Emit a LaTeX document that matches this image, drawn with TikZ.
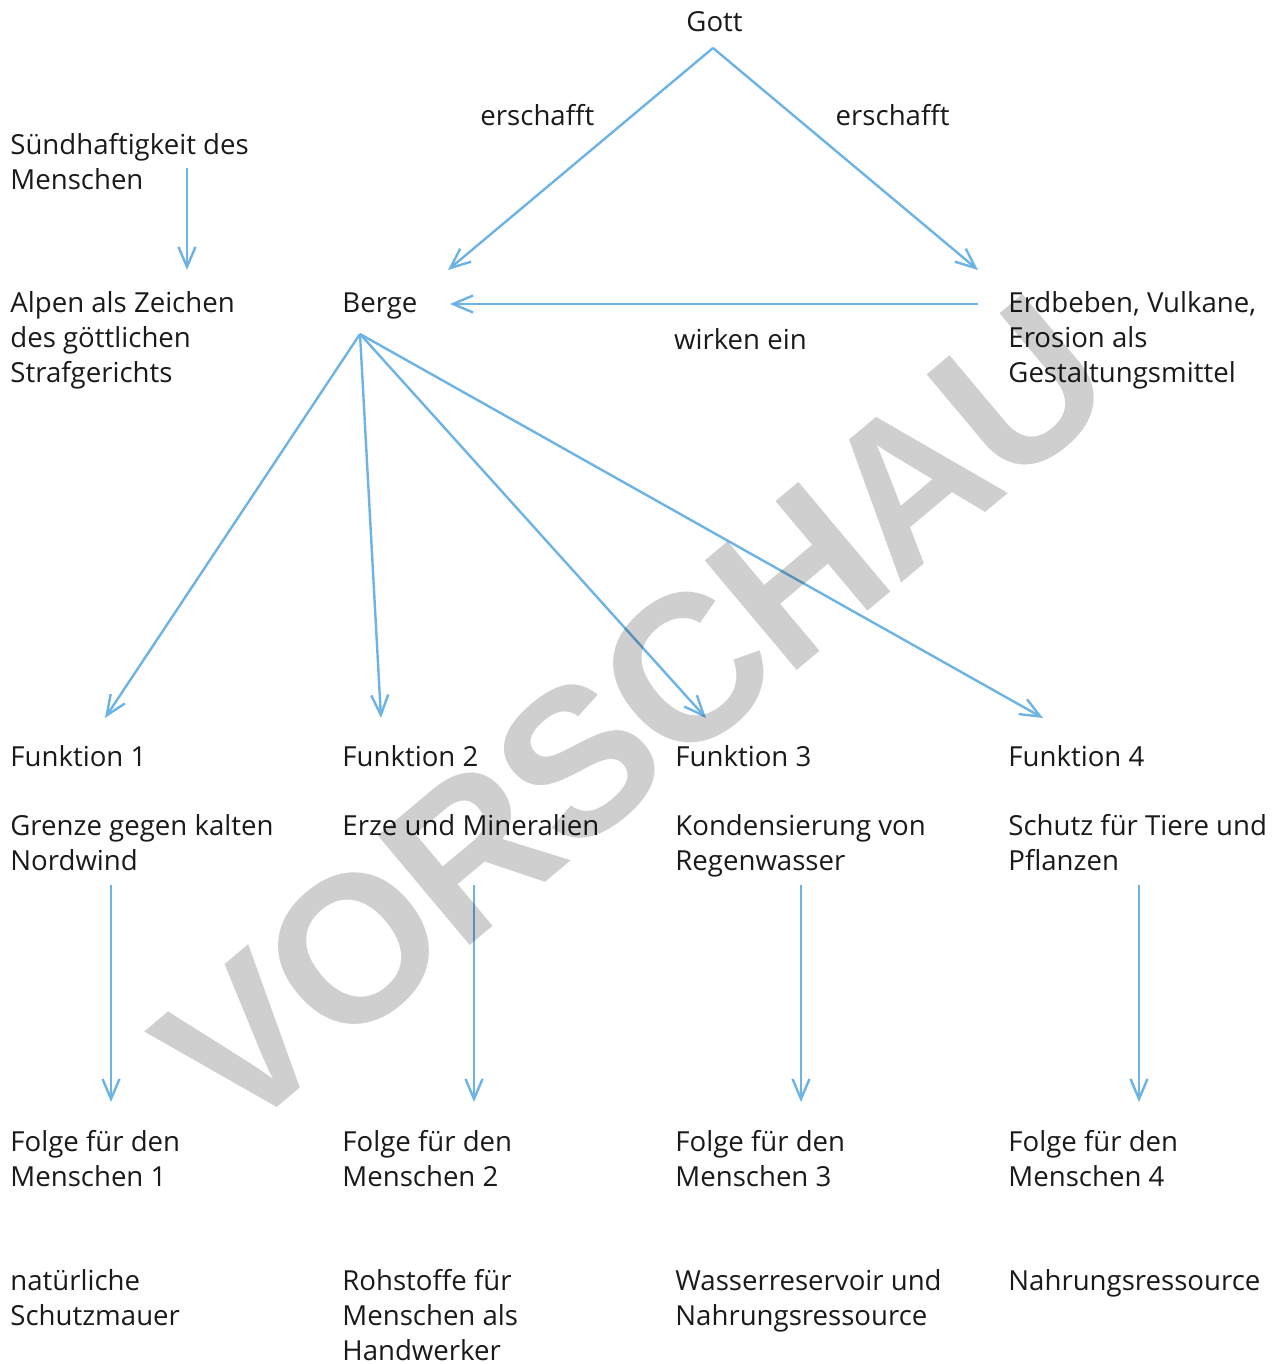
\documentclass[tikz,border=0pt]{standalone}
\usepackage{fontspec}
\setmainfont{Open Sans}
\newfontfamily\stampfont{Liberation Sans}[LetterSpace=-2]
\usetikzlibrary{arrows.meta,positioning,calc}
\definecolor{Sky}{HTML}{6DB3E3}
\definecolor{Ink}{HTML}{1A1A1A}

\begin{document}
\begin{tikzpicture}[x=0.5pt,y=-0.5pt,
    txt/.style={anchor=base west,inner sep=0pt,align=left,text=Ink,
      font=\fontsize{13.8}{17.5}\selectfont},
    link/.style={draw=Sky,line width=1.2pt,
      -{Straight Barb[length=10pt,width=8.5pt]}},
    stamp/.style={rotate=40,text=black,opacity=0.19,
      font=\stampfont\bfseries\fontsize{104}{104}\selectfont}
  ]
  \useasboundingbox (0,0) rectangle (1276,1364);

  \node[txt] (gott) at (686,32) {Gott};
  \node[txt] (sund) at (10,190) {Sündhaftigkeit des\\Menschen};
  \node[txt] (alpen) at (10,382) {Alpen als Zeichen\\des göttlichen\\Strafgerichts};
  \node[txt] (berge) at (342,312) {Berge};
  \node[txt] (erd) at (1008,382) {Erdbeben, Vulkane,\\Erosion als\\Gestaltungsmittel};

  \foreach \i/\x/\dy/\desc/\ry/\res in {
      1/10/870/{Grenze gegen kalten\\Nordwind}/1325/{natürliche\\Schutzmauer},
      2/342/835/{Erze und Mineralien}/1360/{Rohstoffe für\\Menschen als\\Handwerker},
      3/675/870/{Kondensierung von\\Regenwasser}/1325/{Wasserreservoir und\\Nahrungsressource},
      4/1008/870/{Schutz für Tiere und\\Pflanzen}/1290/{Nahrungsressource}}{
    \node[txt] (f\i) at (\x,766) {Funktion \i};
    \node[txt] (d\i) at (\x,\dy) {\desc};
    \node[txt] (g\i) at (\x,1186) {Folge für den\\Menschen \i};
    \node[txt] (r\i) at (\x,\ry) {\res};
  }

  \draw[link] ($(gott.base west)+(27,16)$) -- ($(berge.base west)+(106,-42)$)
    node[txt,pos=0.3,anchor=east,xshift=-19pt] (er1) {erschafft};
  \draw[link] ($(gott.base west)+(27,16)$) -- ($(erd.base west)+(-30,-112)$)
    node[txt,pos=0.3,anchor=west,xshift=21pt] (er2) {erschafft};
  \draw[link] ($(erd.base west)+(-30,-78)$) -- ($(berge.base west)+(108,-8)$)
    node[txt,pos=0.45,anchor=north,yshift=-11.5pt] (wirk) {wirken ein};
  \draw[link] ($(sund.base west)+(177,-22)$) -- ($(alpen.base west)+(177,-112)$);

  \foreach \i/\a/\b in {1/95/101,2/39/132,3/31/126,4/35/131}{
    \draw[link] ($(berge.base west)+(18,22)$) -- ($(f\i.base west)+(\a,-48)$);
    \draw[link] ($(f\i.base west)+(\b,119)$) -- ($(g\i.base west)+(\b,-84)$);
  }

  \node[stamp] (wm) at (634,714) {VORSCHAU};
\end{tikzpicture}
\end{document}
